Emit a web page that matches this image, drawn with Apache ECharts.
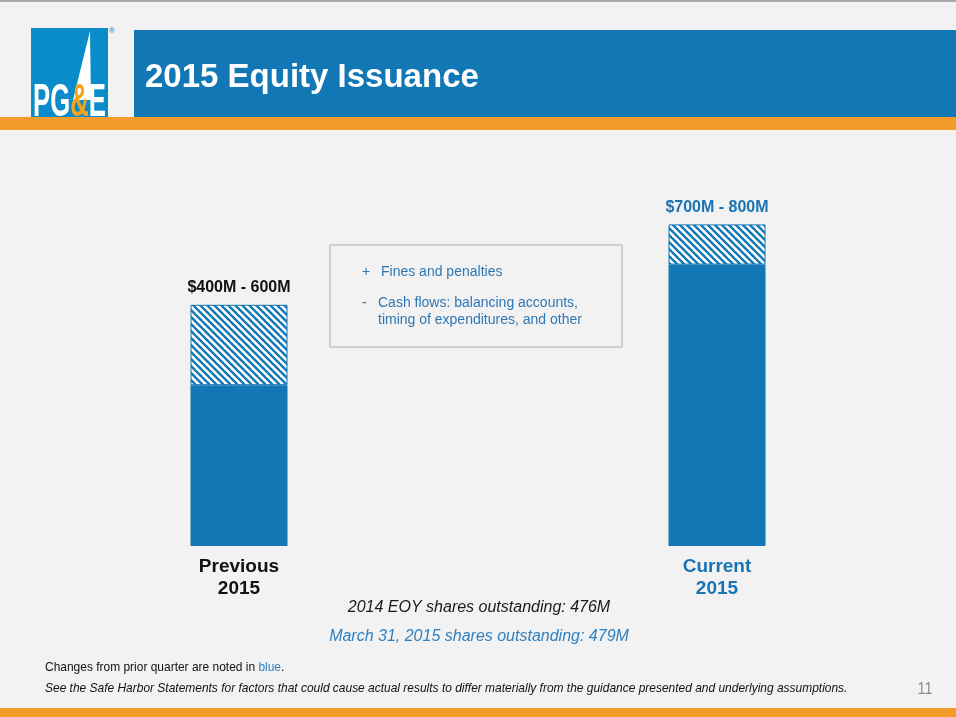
<!DOCTYPE html>
<html>
<head>
<meta charset="utf-8">
<script src="https://cdn.jsdelivr.net/npm/echarts@6/dist/echarts.min.js"></script>
<style>
html, body { margin: 0; padding: 0; background: #f2f2f2; }
#chart { width: 956px; height: 717px; }
</style>
</head>
<body>
<div id="chart"></div>
<script>
// Chart data
const categories = ["Previous\n2015", "Current\n2015"];
const lowValues = [400, 700];
const highValues = [600, 800];
const rangeLabels = ["$400M - 600M", "$700M - 800M"];
const labelColours = ["#111111", "#1a74b4"];
const boxBullets = ["+", "-"];
const boxLines = ["Fines and penalties", "Cash flows: balancing accounts,\ntiming of expenditures, and other"];
const shareNotes = ["2014 EOY shares outstanding: 476M", "March 31, 2015 shares outstanding: 479M"];

const barBlue = "#1277b5";
const font = "'Liberation Sans', Arial, sans-serif";

function hatchPattern() {
	const c = document.createElement("canvas");
	const s = 7;
	c.width = s;
	c.height = s;
	const ctx = c.getContext("2d");
	ctx.fillStyle = "#ffffff";
	ctx.fillRect(0, 0, s, s);
	ctx.strokeStyle = barBlue;
	ctx.lineWidth = 2.4;
	for (const off of [-s, 0, s]) {
		ctx.beginPath();
		ctx.moveTo(off - 1, -1);
		ctx.lineTo(off + s + 1, s + 1);
		ctx.stroke();
	}
	return c;
}

const chart = echarts.init(document.getElementById("chart"));
const option = {
	animation: false,
	backgroundColor: "#f2f2f2",
	grid: { left: 0, width: 956, top: 144, height: 402 },
	xAxis: {
		type: "category",
		data: categories,
		axisLine: { show: false },
		axisTick: { show: false },
		axisLabel: {
			margin: 10,
			interval: 0,
			formatter: (v, i) => `{c${i}|${v}}`,
			rich: {
				c0: { color: labelColours[0], fontSize: 19, fontWeight: "bold", fontFamily: font, lineHeight: 22, align: "center" },
				c1: { color: labelColours[1], fontSize: 19, fontWeight: "bold", fontFamily: font, lineHeight: 22, align: "center" },
			},
		},
	},
	yAxis: { type: "value", min: 0, max: 1000, show: false, splitLine: { show: false } },
	series: [
		{
			type: "bar",
			stack: "total",
			barWidth: 97,
			data: lowValues,
			itemStyle: { color: barBlue },
		},
		{
			type: "bar",
			stack: "total",
			barWidth: 97,
			data: highValues.map((h, i) => h - lowValues[i]),
			itemStyle: { color: { image: hatchPattern(), repeat: "repeat" }, borderColor: barBlue, borderWidth: 1 },
			label: {
				show: true,
				position: "top",
				distance: 9,
				formatter: (p) => `{c${p.dataIndex}|${rangeLabels[p.dataIndex]}}`,
				rich: {
					c0: { color: labelColours[0], fontSize: 16, fontWeight: "bold", fontFamily: font },
					c1: { color: labelColours[1], fontSize: 16, fontWeight: "bold", fontFamily: font },
				},
			},
		},
	],
	graphic: [
		// top grey rule
		{ type: "rect", shape: { x: 0, y: 0, width: 956, height: 2 }, style: { fill: "#a8a8b0" } },
		// header band
		{ type: "rect", shape: { x: 134, y: 30, width: 822, height: 88 }, style: { fill: "#1277b5" } },
		{
			type: "text", x: 145, y: 78,
			style: { text: "2015 Equity Issuance", fill: "#ffffff", font: "bold 33px " + font, verticalAlign: "middle" },
		},
		// logo
		{ type: "rect", shape: { x: 31, y: 28, width: 77, height: 89 }, style: { fill: "#0a8ccb" } },
		{ type: "polygon", shape: { points: [[90, 31], [91, 100], [73, 100]] }, style: { fill: "#ffffff" } },
		{
			type: "text", x: 33, y: 126, scaleX: 0.56,
			style: { text: "{w|PG}{o|&}{w|E}", verticalAlign: "bottom",
				rich: {
					w: { fill: "#ffffff", font: "bold 46px " + font },
					o: { fill: "#f7a21b", font: "bold 46px " + font },
				},
			},
		},
		{ type: "text", x: 109, y: 27, style: { text: "®", fill: "#1277b5", font: "8px " + font } },
		{ type: "rect", shape: { x: 0, y: 117, width: 956, height: 13 }, style: { fill: "#f49c2b" } },
		// notes box
		{ type: "rect", shape: { x: 330, y: 245, width: 292, height: 102 }, style: { fill: "#f2f2f2", stroke: "#c4c4c4", lineWidth: 1.5 } },
		{ type: "text", x: 362, y: 272, style: { text: boxBullets[0], fill: "#2f77b4", font: "14px " + font, verticalAlign: "middle" } },
		{ type: "text", x: 381, y: 272, style: { text: boxLines[0], fill: "#2f77b4", font: "14px " + font, verticalAlign: "middle" } },
		{ type: "text", x: 362, y: 303, style: { text: boxBullets[1], fill: "#2f77b4", font: "14px " + font, verticalAlign: "middle" } },
		{ type: "text", x: 378, y: 295, style: { text: boxLines[1], fill: "#2f77b4", font: "14px " + font, lineHeight: 17, verticalAlign: "top" } },
		// share notes
		{ type: "text", x: 479, y: 608, style: { text: shareNotes[0], fill: "#1a1a1a", font: "italic 16px " + font, align: "center", verticalAlign: "middle" } },
		{ type: "text", x: 479, y: 637, style: { text: shareNotes[1], fill: "#2f80c0", font: "italic 16px " + font, align: "center", verticalAlign: "middle" } },
		// footer
		{
			type: "text", x: 45, y: 667, scaleX: 0.92,
			style: { text: "{k|Changes from prior quarter are noted in }{b|blue}{k|.}", verticalAlign: "middle",
				rich: {
					k: { fill: "#111111", font: "13px " + font },
					b: { fill: "#2f80c0", font: "13px " + font },
				},
			},
		},
		{
			type: "text", x: 45, y: 688, scaleX: 0.92,
			style: { text: "See the Safe Harbor Statements for factors that could cause actual results to differ materially from the guidance presented and underlying assumptions.", fill: "#111111", font: "italic 13px " + font, verticalAlign: "middle" },
		},
		{ type: "text", x: 925, y: 689, scaleX: 0.85, style: { text: "11", fill: "#8c8c8c", font: "17px " + font, align: "center", verticalAlign: "middle" } },
		{ type: "rect", shape: { x: 0, y: 708, width: 956, height: 9 }, style: { fill: "#f49c2b" } },
	],
};
chart.setOption(option);
</script>
</body>
</html>
